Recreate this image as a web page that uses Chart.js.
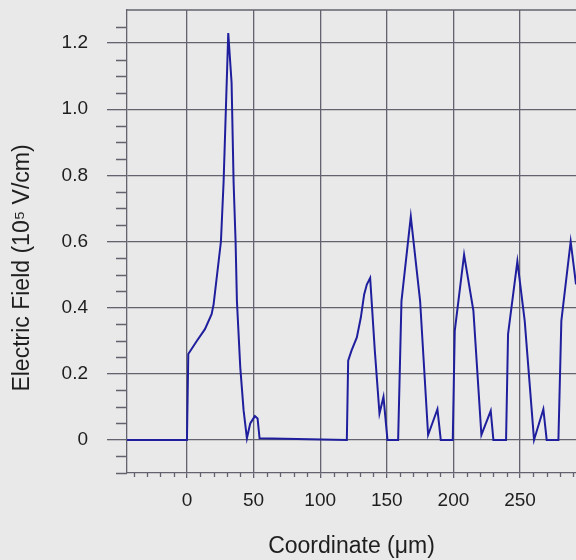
<!DOCTYPE html>
<html>
<head>
<meta charset="utf-8">
<script src="https://cdn.jsdelivr.net/npm/chart.js@4/dist/chart.umd.min.js"></script>
<style>
  html, body { margin: 0; padding: 0; background: #e9e9e9; }
</style>
</head>
<body>
<canvas id="chart" width="576" height="560"></canvas>
<script>
// Position along the device (um) and electric field (10^5 V/cm).
const positionUm = [
    -45, 0, 1, 7.5, 13.5, 18.5, 20, 25.5, 27.5, 31, 33.5, 35, 36.5, 37.5, 40, 42.5, 45,
    47.5, 51, 53, 54.5, 120, 121, 123.5, 127.5, 130.5, 133, 135, 137.5, 141, 144.5,
    147.5, 150.5, 158.5, 161, 168, 175, 181, 188, 190.5, 199.5, 201, 208, 215, 221,
    228, 230, 239.5, 241, 248, 253.5, 260.5, 267.5, 270, 278.8, 281, 288, 292
];
const fieldValues = [
    0, 0, 0.26, 0.30, 0.335, 0.38, 0.41, 0.6, 0.78, 1.23, 1.08, 0.78, 0.6, 0.42, 0.22, 0.09, 0.005,
    0.05, 0.072, 0.065, 0.005, 0, 0.24, 0.27, 0.31, 0.37, 0.44, 0.47, 0.49, 0.27, 0.08,
    0.13, 0, 0, 0.42, 0.675, 0.42, 0.015, 0.093, 0, 0, 0.33, 0.56, 0.39, 0.015,
    0.088, 0, 0, 0.32, 0.54, 0.36, 0, 0.093, 0, 0, 0.36, 0.6, 0.47
];
const xTickValues = [0, 50, 100, 150, 200, 250];
const yTickValues = [0, 0.2, 0.4, 0.6, 0.8, 1.0, 1.2];
const yTitle = 'Electric Field (10\u2075 V/cm)';

const bgColor = '#e9e9e9';
const gridColor = '#63636f';
const textColor = '#1e1e1e';
const lineColor = '#1f1f9e';
const fontFamily = '"Liberation Sans", Arial, sans-serif';

/**
 * Paints the background, the top frame line, the minor tick marks
 * and the y axis title (it sits lower than the axis middle).
 */
const frameAndMinorTicks = {
    id: 'frameAndMinorTicks',
    beforeDraw( chart ) {
        const ctx = chart.ctx;
        ctx.save();
        ctx.fillStyle = bgColor;
        ctx.fillRect( 0, 0, chart.width, chart.height );
        ctx.restore();
    },
    beforeDatasetsDraw( chart ) {
        const ctx = chart.ctx;
        const area = chart.chartArea;
        const xs = chart.scales.x;
        const ys = chart.scales.y;
        ctx.save();
        ctx.strokeStyle = gridColor;
        ctx.lineWidth = 1.3;
        ctx.beginPath();
        // Top of the frame.
        ctx.moveTo( area.left, area.top );
        ctx.lineTo( area.right, area.top );
        // Minor ticks on the y axis, every 0.05.
        for ( let i = -2; i < 26; i++ ) {
            if ( i % 4 === 0 ) continue;
            const py = Math.round( ys.getPixelForValue( i * 0.05 ) ) + 0.5;
            ctx.moveTo( area.left - 11, py );
            ctx.lineTo( area.left, py );
        }
        // Minor ticks on the x axis, every 10.
        for ( let v = -40; v <= xs.max; v += 10 ) {
            if ( v % 50 === 0 ) continue;
            const px = Math.round( xs.getPixelForValue( v ) ) + 0.5;
            ctx.moveTo( px, area.bottom );
            ctx.lineTo( px, area.bottom + 4 );
        }
        ctx.stroke();
        // Y axis title.
        ctx.translate( 23, ys.getPixelForValue( 0.52 ) );
        ctx.rotate( -Math.PI / 2 );
        ctx.fillStyle = textColor;
        ctx.font = '23px ' + fontFamily;
        ctx.textAlign = 'center';
        ctx.textBaseline = 'middle';
        ctx.fillText( yTitle, 0, 0 );
        ctx.restore();
    }
};

const points = positionUm.map( ( x, i ) => ( { x: x, y: fieldValues[ i ] } ) );

new Chart( document.getElementById( 'chart' ), {
    type: 'line',
    data: {
        datasets: [{
            data: points,
            borderColor: lineColor,
            borderWidth: 2,
            pointRadius: 0,
            tension: 0,
            fill: false
        }]
    },
    options: {
        responsive: false,
        animation: false,
        events: [],
        layout: { padding: { top: 10, right: 0, bottom: 0, left: 0 } },
        plugins: {
            legend: { display: false },
            tooltip: { enabled: false }
        },
        scales: {
            x: {
                type: 'linear',
                min: -45,
                max: 292,
                afterBuildTicks: ( scale ) => {
                    scale.ticks = xTickValues.map( v => ( { value: v } ) );
                },
                afterFit: ( scale ) => {
                    scale.height = 87;
                    scale.paddingLeft = 0;
                    scale.paddingRight = 0;
                },
                grid: {
                    color: gridColor,
                    lineWidth: 1.3,
                    tickLength: 5
                },
                border: { color: gridColor, width: 1.3 },
                ticks: {
                    color: textColor,
                    font: { family: fontFamily, size: 19 },
                    padding: 11,
                    maxRotation: 0,
                    callback: ( v ) => String( v )
                },
                title: {
                    display: true,
                    text: 'Coordinate (\u03bcm)',
                    color: textColor,
                    font: { family: fontFamily, size: 23 },
                    padding: { top: 0, bottom: 0 }
                }
            },
            y: {
                type: 'linear',
                min: -0.1,
                max: 1.3,
                afterBuildTicks: ( scale ) => {
                    scale.ticks = yTickValues.map( v => ( { value: v } ) );
                },
                afterFit: ( scale ) => {
                    scale.width = 127;
                    scale.paddingTop = 0;
                    scale.paddingBottom = 0;
                },
                grid: {
                    color: gridColor,
                    lineWidth: 1.3,
                    tickLength: 20
                },
                border: { color: gridColor, width: 1.3 },
                ticks: {
                    color: textColor,
                    font: { family: fontFamily, size: 19 },
                    padding: 19,
                    callback: ( v ) => ( v === 0 ? '0' : v.toFixed( 1 ) )
                },
                title: { display: false }
            }
        }
    },
    plugins: [ frameAndMinorTicks ]
});
</script>
</body>
</html>
